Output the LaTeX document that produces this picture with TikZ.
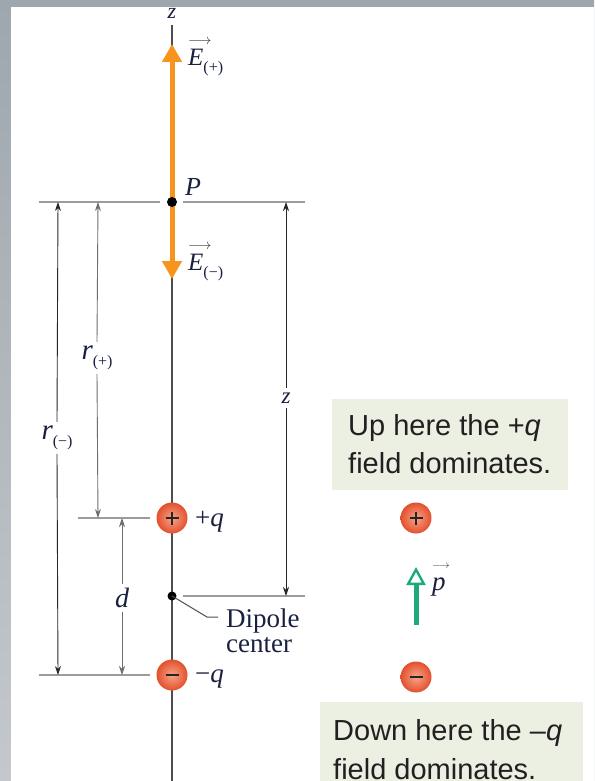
\documentclass[tikz,border=0pt]{standalone}
\usepackage{fontspec}
\setmainfont{Liberation Serif}
\newfontfamily\boxfont{Liberation Sans}
\usetikzlibrary{arrows.meta}
\definecolor{bgtop}{HTML}{9EA7AE}
\definecolor{bgbot}{HTML}{C4C8CC}
\definecolor{axisgray}{HTML}{4D4D4D}
\definecolor{linegray}{HTML}{9C9C9C}
\definecolor{dimdark}{HTML}{262626}
\definecolor{dimlight}{HTML}{6E6E6E}
\definecolor{efield}{HTML}{F7941D}
\definecolor{dipgreen}{HTML}{1CAA7D}
\definecolor{boxfill}{HTML}{EBF0E3}
\definecolor{labelc}{HTML}{1A2040}
\definecolor{chargein}{HTML}{F8A488}
\definecolor{chargeout}{HTML}{E2502D}
\definecolor{textc}{HTML}{231F20}
\newcommand{\ovec}[3]{\makebox[0pt][l]{\raisebox{#1}{\fontsize{#3}{#3}\selectfont\color{black!80}$\longrightarrow$}}{\itshape #2}}
\newcommand{\lsub}[1]{\raisebox{-7pt}{\fontsize{16}{16}\selectfont #1}}
\tikzset{
  lab/.style={text=labelc, font=\fontsize{25}{27}\selectfont, inner sep=0pt},
  qlab/.style={text=labelc, font=\fontsize{27}{29}\selectfont, inner sep=0pt, anchor=base west},
  guide/.style={draw=linegray, line width=1.8pt},
  dimd/.style={draw=dimdark, line width=0.9pt},
  diml/.style={draw=dimlight, line width=0.9pt},
  tipd/.style={-{Stealth[length=9pt,width=6pt]}},
  tipu/.style={{Stealth[length=9pt,width=6pt]}-},
  efarrow/.style={draw=efield, line width=5pt, -{Triangle[length=18pt,width=19pt]}},
  chg/.style={circle, minimum size=31pt, inner sep=0pt, inner color=chargein, outer color=chargeout},
  posq/.style={chg, path picture={\draw[line width=2.2pt, black!85] ([xshift=-6.5pt]path picture bounding box.center) -- ([xshift=6.5pt]path picture bounding box.center) ([yshift=-6.5pt]path picture bounding box.center) -- ([yshift=6.5pt]path picture bounding box.center);}},
  negq/.style={chg, path picture={\draw[line width=2.2pt, black!85] ([xshift=-6.5pt]path picture bounding box.center) -- ([xshift=6.5pt]path picture bounding box.center);}},
  dotnode/.style={circle, fill=black, minimum size=10pt, inner sep=0pt},
  boxtext/.style={font=\boxfont\fontsize{29}{36}\selectfont, text=textc, anchor=base west, inner sep=0pt},
  dipt/.style={font=\fontsize{27}{27}\selectfont, text=labelc, anchor=base west, inner sep=0pt},
  infobox/.style={fill=boxfill, anchor=north west, inner sep=0pt},
}
\begin{document}
\begin{tikzpicture}[x=1pt,y=-1pt]
\useasboundingbox (0,0) rectangle (594,781);
% background frame
\fill[top color=bgtop, bottom color=bgbot] (0,0) rectangle (594,781);
\fill[white] (11,7) rectangle (594,781);

% axis
\coordinate (ztop) at (172,25);
\coordinate (zbot) at (172,781);
\node[lab, font=\fontsize{22}{24}\selectfont] (zlab) at (172,13) {\itshape z};
\draw[axisgray, line width=1.4pt] (ztop) -- (zbot);

% guide lines
\coordinate (gPa) at (39,202);  \coordinate (gPb) at (160,202);
\coordinate (gPc) at (183,202); \coordinate (gPd) at (305,202);
\coordinate (gQa) at (78,518);  \coordinate (gQb) at (150,518);
\coordinate (gCa) at (183,596); \coordinate (gCb) at (305,596);
\coordinate (gMa) at (39,675);  \coordinate (gMb) at (150,675);
\draw[guide] (gPa) -- (gPb);
\draw[guide] (gPc) -- (gPd);
\draw[guide] (gQa) -- (gQb);
\draw[guide] (gCa) -- (gCb);
\draw[guide] (gMa) -- (gMb);

% field arrows at P
\coordinate (Pc) at (172,202);
\coordinate (Eup) at (172,44);
\coordinate (Edn) at (172,279);
\draw[efarrow] (Pc) -- (Eup);
\draw[efarrow] (Pc) -- (Edn);
\node[dotnode] (P) at (Pc) {};
\node[lab, anchor=base west, font=\fontsize{26}{28}\selectfont] (Plab) at (185,195) {\itshape P};
\node[lab, anchor=base west] (Eplab) at (188,66) {\ovec{21pt}{E}{14}\lsub{(+)}};
\node[lab, anchor=base west] (Emlab) at (188,270) {\ovec{21pt}{E}{14}\lsub{(−)}};

% dimension r(-)
\coordinate (rmtop) at (58,202); \coordinate (rmbot) at (58,675);
\node[lab, font=\fontsize{29}{31}\selectfont, inner sep=4pt] (rmlab) at (57,438) {{\itshape r}\lsub{(−)}};
\draw[dimd, tipu] (rmtop) -- (rmlab.north);
\draw[dimd, tipd] (rmlab.south) -- (rmbot);

% dimension r(+)
\coordinate (rptop) at (98,202); \coordinate (rpbot) at (98,518);
\node[lab, font=\fontsize{29}{31}\selectfont, inner sep=4pt] (rplab) at (97,358) {{\itshape r}\lsub{(+)}};
\draw[diml, tipu] (rptop) -- (rplab.north);
\draw[diml, tipd] (rplab.south) -- (rpbot);

% dimension z
\coordinate (zdtop) at (286,202); \coordinate (zdbot) at (286,596);
\node[lab, font=\fontsize{23}{25}\selectfont, inner sep=5pt] (zdlab) at (286,398) {\itshape z};
\draw[dimd, tipu] (zdtop) -- (zdlab.north);
\draw[dimd, tipd] (zdlab.south) -- (zdbot);

% dimension d
\coordinate (dtop) at (122,518); \coordinate (dbot) at (122,675);
\node[lab, font=\fontsize{28}{30}\selectfont, inner sep=4pt] (dlab) at (122,598) {\itshape d};
\draw[diml, tipu] (dtop) -- (dlab.north);
\draw[diml, tipd] (dlab.south) -- (dbot);

% charges on axis
\node[posq] (qp) at (172,518) {};
\node[negq] (qm) at (172,675) {};
\node[qlab] (qplab) at (195,526) {+\textit{q}};
\node[qlab] (qmlab) at (195,682) {−\textit{q}};

% dipole center
\node[dotnode, minimum size=9pt] (dc) at (172,596) {};
\coordinate (lk) at (207,617);
\coordinate (le) at (218,617);
\draw[axisgray, line width=1pt] (dc.center) -- (lk) -- (le);
\node[dipt] (dipt1) at (226,627) {Dipole};
\node[dipt] (dipt2) at (226,652) {center};

% right side
\node[infobox, minimum width=236pt, minimum height=91pt] (upbox) at (332,399) {};
\node[boxtext] (up1) at (348,435) {Up here the +\textit{q}};
\node[boxtext] (up2) at (348,473) {field dominates.};

\node[posq] (qp2) at (416,518) {};
\node[negq] (qm2) at (416,677) {};
\coordinate (pbot) at (416,625);
\coordinate (ptop) at (416,567);
\draw[draw=dipgreen, line width=5pt, -{Triangle[open, length=18pt, width=19pt, line width=2.4pt]}] (pbot) -- (ptop);
\node[qlab] (plab) at (432,590) {\ovec{22pt}{p}{11}};

\node[infobox, minimum width=263pt, minimum height=85pt] (dnbox) at (320,702) {};
\node[boxtext] (dn1) at (333,740) {Down here the –\textit{q}};
\node[boxtext] (dn2) at (333,779) {field dominates.};
\end{tikzpicture}
\end{document}
